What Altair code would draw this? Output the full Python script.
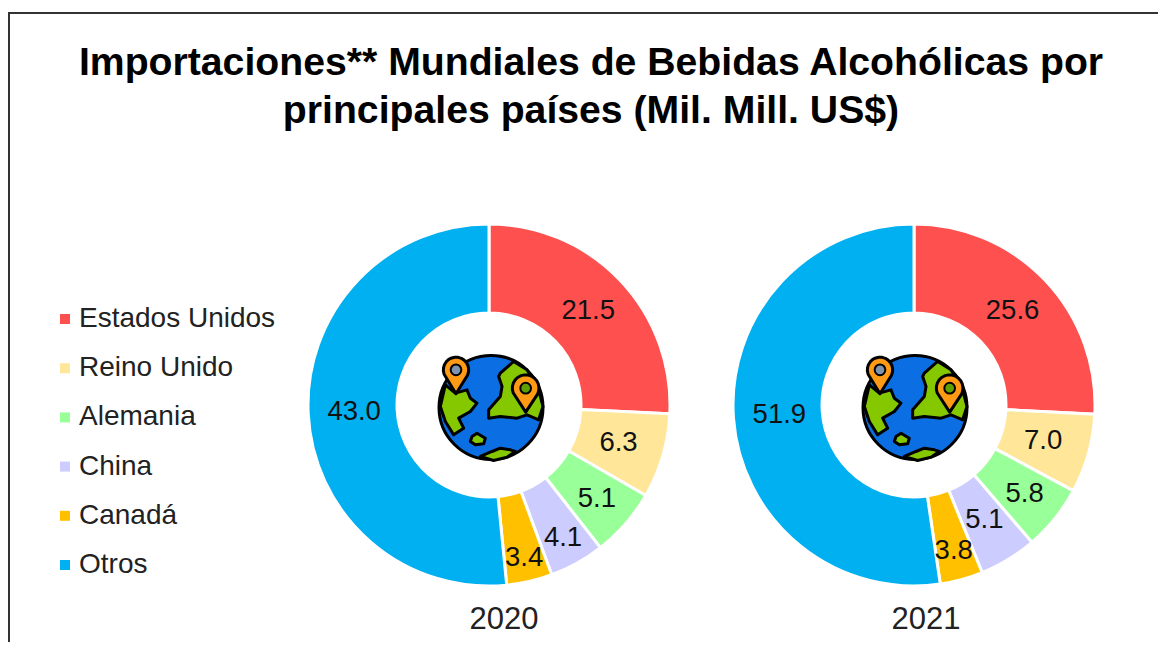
import math
import altair as alt
import pandas as pd

paises = ["Estados Unidos", "Reino Unido", "Alemania", "China", "Canadá", "Otros"]
valores_2020 = [21.5, 6.3, 5.1, 4.1, 3.4, 43.0]
valores_2021 = [25.6, 7.0, 5.8, 5.1, 3.8, 51.9]
colores = ["#FF5050", "#FFE699", "#99FF99", "#CCCCFF", "#FFC000", "#00B0F0"]
titulo = ["Importaciones** Mundiales de Bebidas Alcohólicas por",
          "principales países (Mil. Mill. US$)"]

W, H = 1150, 634
FONT = "Liberation Sans"
OUTER, INNER = 181, 92
# layout: page position minus the 8 px page margin
CENTROS = {"2020": (481, 397), "2021": (906, 397)}
ETIQUETA_ANIO = {"2020": (496, 612), "2021": (918, 612)}
GLOBOS = {"2020": (483, 399.5), "2021": (907, 399.5)}
RADIOS = {"2020": [137, 135, 143, 152, 157, 135],
          "2021": [136, 134, 142, 135, 151, 135]}


def tabla(anio, valores):
    total = sum(valores)
    filas, acum = [], 0.0
    for i, (p, v) in enumerate(zip(paises, valores)):
        filas.append({"pais": p, "valor": v, "idx": i, "frac": v / total,
                      "mid": (acum + v / 2) / total, "r": RADIOS[anio][i],
                      "txt": f"{v:.1f}"})
        acum += v
    return pd.DataFrame(filas)


theta_dom = alt.Scale(domain=[0, 1], range=[0, 2 * math.pi])
color_enc = alt.Color(
    "pais:N",
    scale=alt.Scale(domain=paises, range=colores),
    legend=alt.Legend(
        title=None, orient="none", legendX=43, legendY=297, symbolType="square",
        symbolSize=100, symbolStrokeWidth=0, labelFont=FONT, labelFontSize=28,
        labelColor="#222222", labelLimit=300, rowPadding=21.2, labelOffset=0,
        values=paises,
    ),
)


def unidad(puntos):
    cx, cy, r = 212, 203, 156
    seg = [f"{(x - cx) / r:.3f},{(y - cy) / r:.3f}" for x, y in puntos]
    return "M" + "L".join(seg) + "Z"


def pin(cx, cy, r, tip):
    pts = [(cx, cy + tip)]
    for a in range(-25, 206, 15):
        t = math.radians(a)
        pts.append((cx + r * math.cos(t), cy - r * math.sin(t)))
    return unidad(pts)


CONT_IZQ = [(75, 135), (105, 160), (140, 150), (150, 175), (170, 190), (150, 215), (115, 235),
            (130, 265), (100, 285), (75, 245), (60, 200)]
CONT_DER = [(240, 100), (280, 65), (320, 90), (355, 150), (368, 200), (355, 240), (320, 225),
            (290, 235), (240, 230), (205, 235), (205, 210), (240, 170), (245, 140), (235, 110)]
ISLA = [(155, 290), (170, 280), (195, 295), (190, 312), (165, 315), (150, 305)]
SUR = [(180, 350), (215, 335), (240, 325), (270, 330), (285, 335), (260, 352), (220, 362)]

uno = pd.DataFrame({"a": [1]})
D = 104


def simbolo(gx, gy, forma, color, size=D ** 2, ancho=3, dx=0, dy=0):
    return alt.Chart(uno).mark_point(
        shape=forma, size=size, filled=True, fill=color, opacity=1,
        stroke="#000000", strokeWidth=ancho, strokeJoin="round",
    ).encode(x=alt.value(gx + dx), y=alt.value(gy + dy))


def globo(gx, gy):
    k = 1 / 3
    capas = [simbolo(gx, gy, "circle", "#0B6FE3")]
    for poly in (CONT_IZQ, CONT_DER, ISLA, SUR):
        capas.append(simbolo(gx, gy, unidad(poly), "#86C800", ancho=3))
    capas.append(simbolo(gx, gy, pin(107, 90, 38, 72), "#FF9A14"))
    capas.append(simbolo(gx, gy, "circle", "#7D93B0", size=(32 * k) ** 2, ancho=2,
                         dx=(107 - 212) * k, dy=(90 - 203) * k))
    capas.append(simbolo(gx, gy, pin(316, 145, 40, 72), "#FF9A14"))
    capas.append(simbolo(gx, gy, "circle", "#5FA000", size=(32 * k) ** 2, ancho=2,
                         dx=(316 - 212) * k, dy=(145 - 203) * k))
    return capas


capas = []
for anio, valores in (("2020", valores_2020), ("2021", valores_2021)):
    df = tabla(anio, valores)
    cx, cy = CENTROS[anio]
    capas.append(
        alt.Chart(df).mark_arc(outerRadius=OUTER, innerRadius=INNER, stroke="white", strokeWidth=3).encode(
            theta=alt.Theta("frac:Q", stack=True, scale=theta_dom),
            order=alt.Order("idx:Q"),
            color=color_enc,
            x=alt.value(cx), y=alt.value(cy),
        )
    )
    capas.append(
        alt.Chart(df).mark_text(font=FONT, fontSize=27.5, color="#111111").encode(
            theta=alt.Theta("mid:Q", stack=None, scale=theta_dom),
            radius=alt.Radius("r:Q", scale=None),
            text="txt:N",
            x=alt.value(cx), y=alt.value(cy),
        )
    )
    ax, ay = ETIQUETA_ANIO[anio]
    capas.append(
        alt.Chart(pd.DataFrame({"t": [anio]})).mark_text(font=FONT, fontSize=31, color="#222222").encode(
            text="t:N", x=alt.value(ax), y=alt.value(ay),
        )
    )
    capas.extend(globo(*GLOBOS[anio]))

marco = [
    alt.Chart(uno).mark_rule(color="#333333", strokeWidth=2).encode(
        x=alt.value(0), x2=alt.value(W), y=alt.value(5)),
    alt.Chart(uno).mark_rule(color="#333333", strokeWidth=2).encode(
        x=alt.value(1), y=alt.value(5), y2=alt.value(H)),
]

chart = alt.layer(*marco, *capas).properties(
    width=W, height=H, padding=0,
    autosize=alt.AutoSizeParams(type="none"),
    title=alt.TitleParams(text=titulo, font=FONT, fontSize=39.2, fontWeight="bold", color="#000000",
                          anchor="middle", frame="group", dx=8, dy=127, lineHeight=48),
).configure_view(stroke=None)

chart.save("out.html", embed_options={"renderer": "svg", "actions": False})
